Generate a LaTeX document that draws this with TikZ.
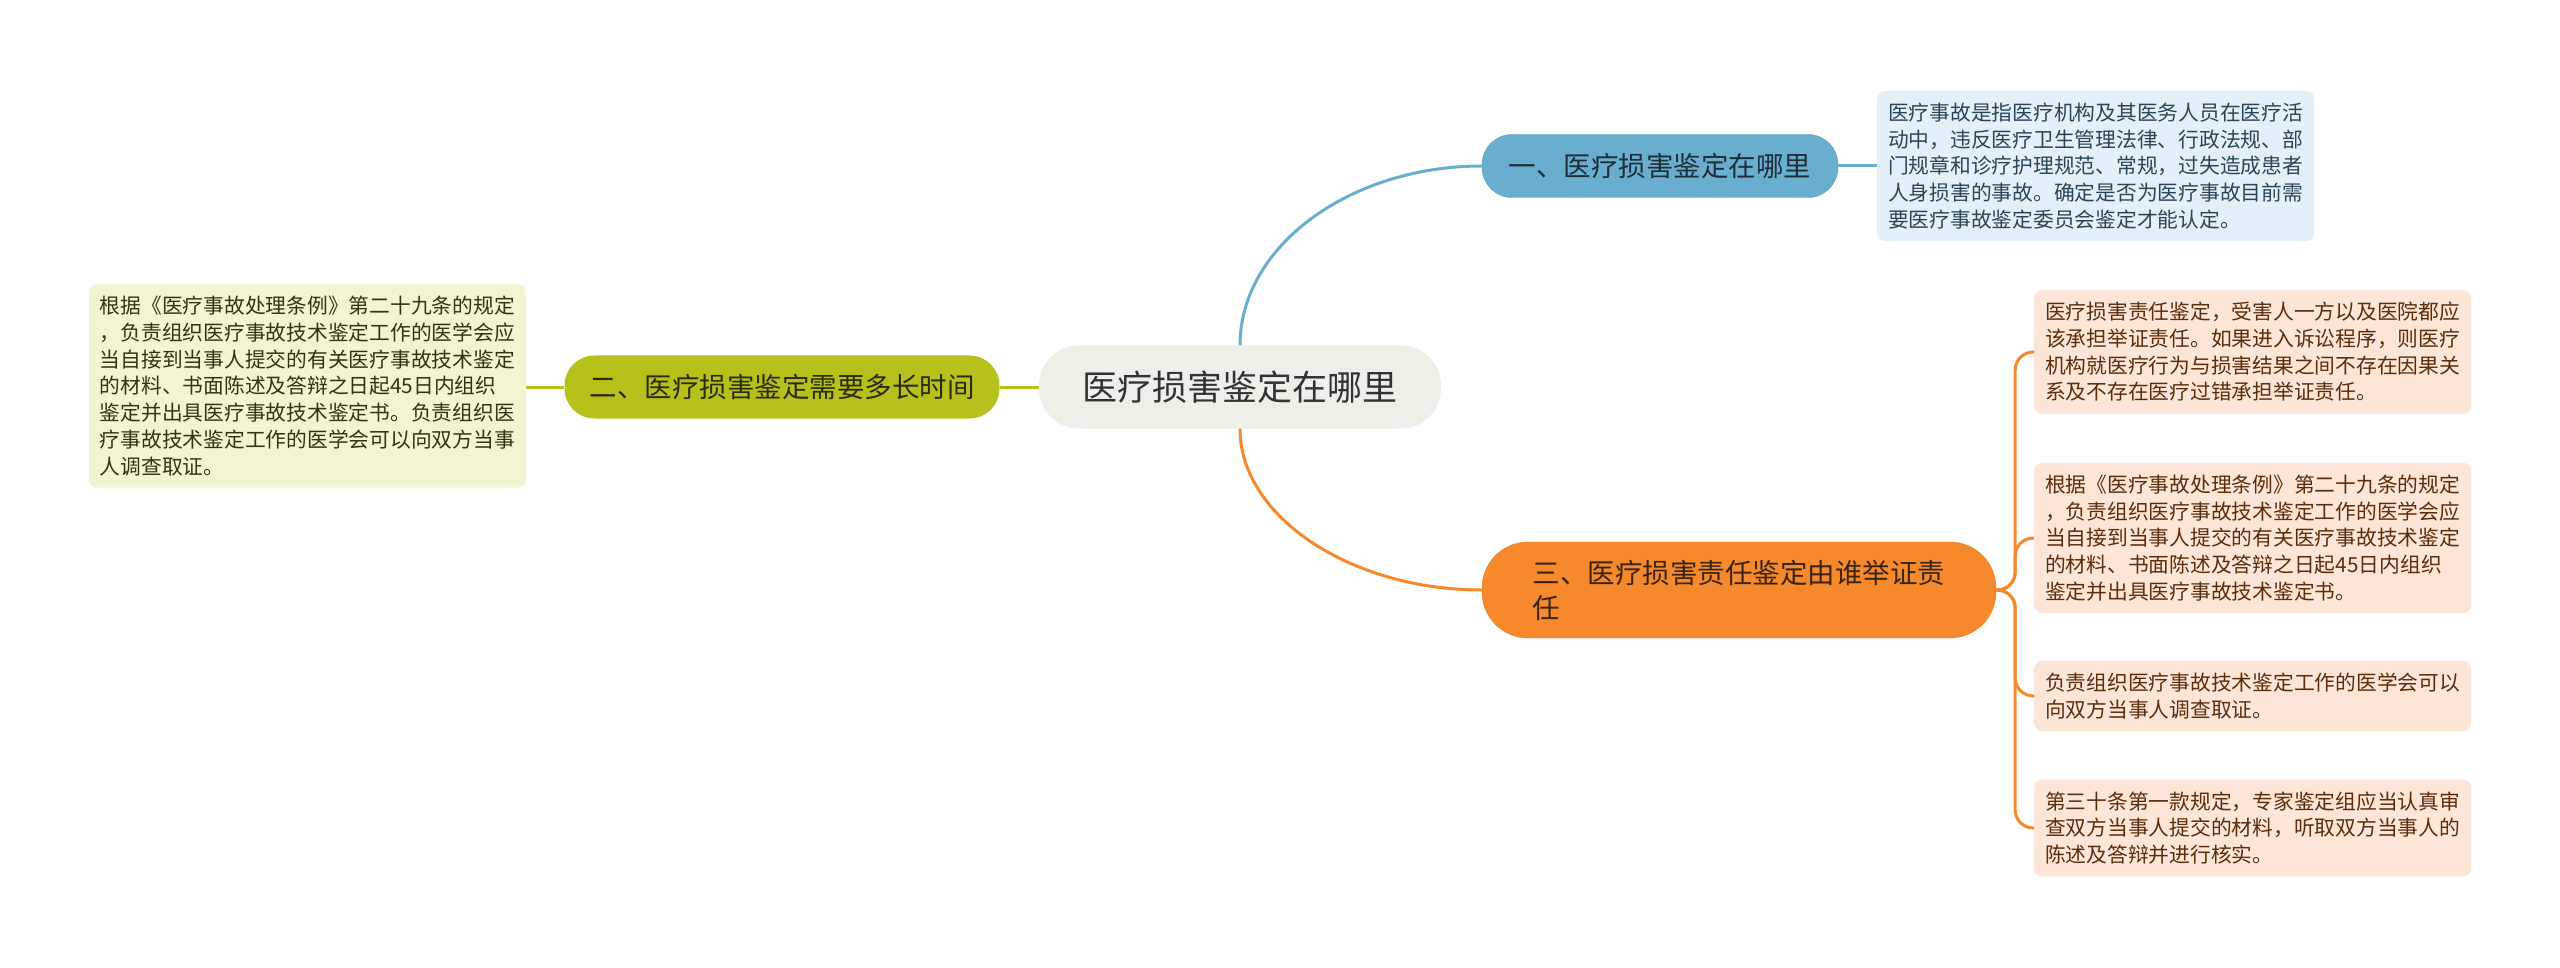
\documentclass[tikz,border=0pt]{standalone}
\usepackage{fontspec}
\setmainfont{Noto Sans CJK SC}
\definecolor{rootfill}{HTML}{EFEFE7}
\definecolor{roottext}{HTML}{333333}
\definecolor{bluemain}{HTML}{69AECF}
\definecolor{blueedge}{HTML}{5E9EBE}
\definecolor{bluetext}{HTML}{1F2D36}
\definecolor{bluenote}{HTML}{E4F0F7}
\definecolor{bluenotetext}{HTML}{2B4556}
\definecolor{greenmain}{HTML}{B6C11B}
\definecolor{greentext}{HTML}{2B2B0E}
\definecolor{greennote}{HTML}{F3F5D2}
\definecolor{greennotetext}{HTML}{34340F}
\definecolor{orangemain}{HTML}{F5892B}
\definecolor{orangeedge}{HTML}{EA7E22}
\definecolor{orangetext}{HTML}{3A2410}
\definecolor{orangenote}{HTML}{FDE6D8}
\definecolor{orangenotetext}{HTML}{5A2D0C}
\tikzset{
  topic/.style={rounded corners=40pt, fill=rootfill, text=roottext,
    minimum width=402pt, minimum height=83pt,
    font=\fontsize{35}{42}\selectfont},
  branch/.style={rounded corners=30pt, minimum height=63pt, inner xsep=0pt,
    font=\fontsize{27.5}{35}\selectfont},
  note/.style={rounded corners=8pt, align=left, minimum width=436pt,
    inner xsep=11pt, inner ysep=12pt,
    font=\fontsize{20.75}{26.7}\selectfont},
  link/.style={line width=3pt},
}
\begin{document}
\begin{tikzpicture}[x=1pt, y=-1pt]
\useasboundingbox (0,0) rectangle (2560,968);
\fill[white] (0,0) rectangle (2560,968);

\node[topic] (root) at (1240,387) {医疗损害鉴定在哪里};

\node[branch, fill=bluemain, draw=blueedge, text=bluetext, minimum width=356pt] (b1) at (1660,166) {一、医疗损害鉴定在哪里};
\node[branch, fill=greenmain, text=greentext, minimum width=435pt] (b2) at (782,387) {二、医疗损害鉴定需要多长时间};
\node[branch, fill=orangemain, draw=orangeedge, text=orangetext, minimum width=514pt, minimum height=96pt, rounded corners=46pt, align=left] (b3) at (1739,590) {三、医疗损害责任鉴定由谁举证责\\任};

\node[note, fill=bluenote, text=bluenotetext, anchor=west] (d1) at (1877,166) {医疗事故是指医疗机构及其医务人员在医疗活\\动中，违反医疗卫生管理法律、行政法规、部\\门规章和诊疗护理规范、常规，过失造成患者\\人身损害的事故。确定是否为医疗事故目前需\\要医疗事故鉴定委员会鉴定才能认定。};
\node[note, fill=greennote, text=greennotetext, anchor=east] (d2) at (526,386) {根据《医疗事故处理条例》第二十九条的规定\\，负责组织医疗事故技术鉴定工作的医学会应\\当自接到当事人提交的有关医疗事故技术鉴定\\的材料、书面陈述及答辩之日起45日内组织\\鉴定并出具医疗事故技术鉴定书。负责组织医\\疗事故技术鉴定工作的医学会可以向双方当事\\人调查取证。};
\node[note, fill=orangenote, text=orangenotetext, anchor=west] (d3) at (2034,352) {医疗损害责任鉴定，受害人一方以及医院都应\\该承担举证责任。如果进入诉讼程序，则医疗\\机构就医疗行为与损害结果之间不存在因果关\\系及不存在医疗过错承担举证责任。};
\node[note, fill=orangenote, text=orangenotetext, anchor=west] (d4) at (2034,538) {根据《医疗事故处理条例》第二十九条的规定\\，负责组织医疗事故技术鉴定工作的医学会应\\当自接到当事人提交的有关医疗事故技术鉴定\\的材料、书面陈述及答辩之日起45日内组织\\鉴定并出具医疗事故技术鉴定书。};
\node[note, fill=orangenote, text=orangenotetext, anchor=west] (d5) at (2034,696) {负责组织医疗事故技术鉴定工作的医学会可以\\向双方当事人调查取证。};
\node[note, fill=orangenote, text=orangenotetext, anchor=west] (d6) at (2034,828) {第三十条第一款规定，专家鉴定组应当认真审\\查双方当事人提交的材料，听取双方当事人的\\陈述及答辩并进行核实。};

\draw[link, bluemain] (root.north) .. controls +(0,-99) and +(-132,0) .. (b1.west);
\draw[link, bluemain] (b1.east) -- (d1.west);
\draw[link, greenmain] (root.west) -- (b2.east);
\draw[link, greenmain] (b2.west) -- (b2.west -| d2.east);
\draw[link, orangemain] (root.south) .. controls +(0,88) and +(-131,0) .. (b3.west);
\foreach \n in {d3,d4,d5,d6}
  \draw[link, orangemain, rounded corners=18pt] (b3.east) -- ++(19,0) |- (\n.west);
\end{tikzpicture}
\end{document}
